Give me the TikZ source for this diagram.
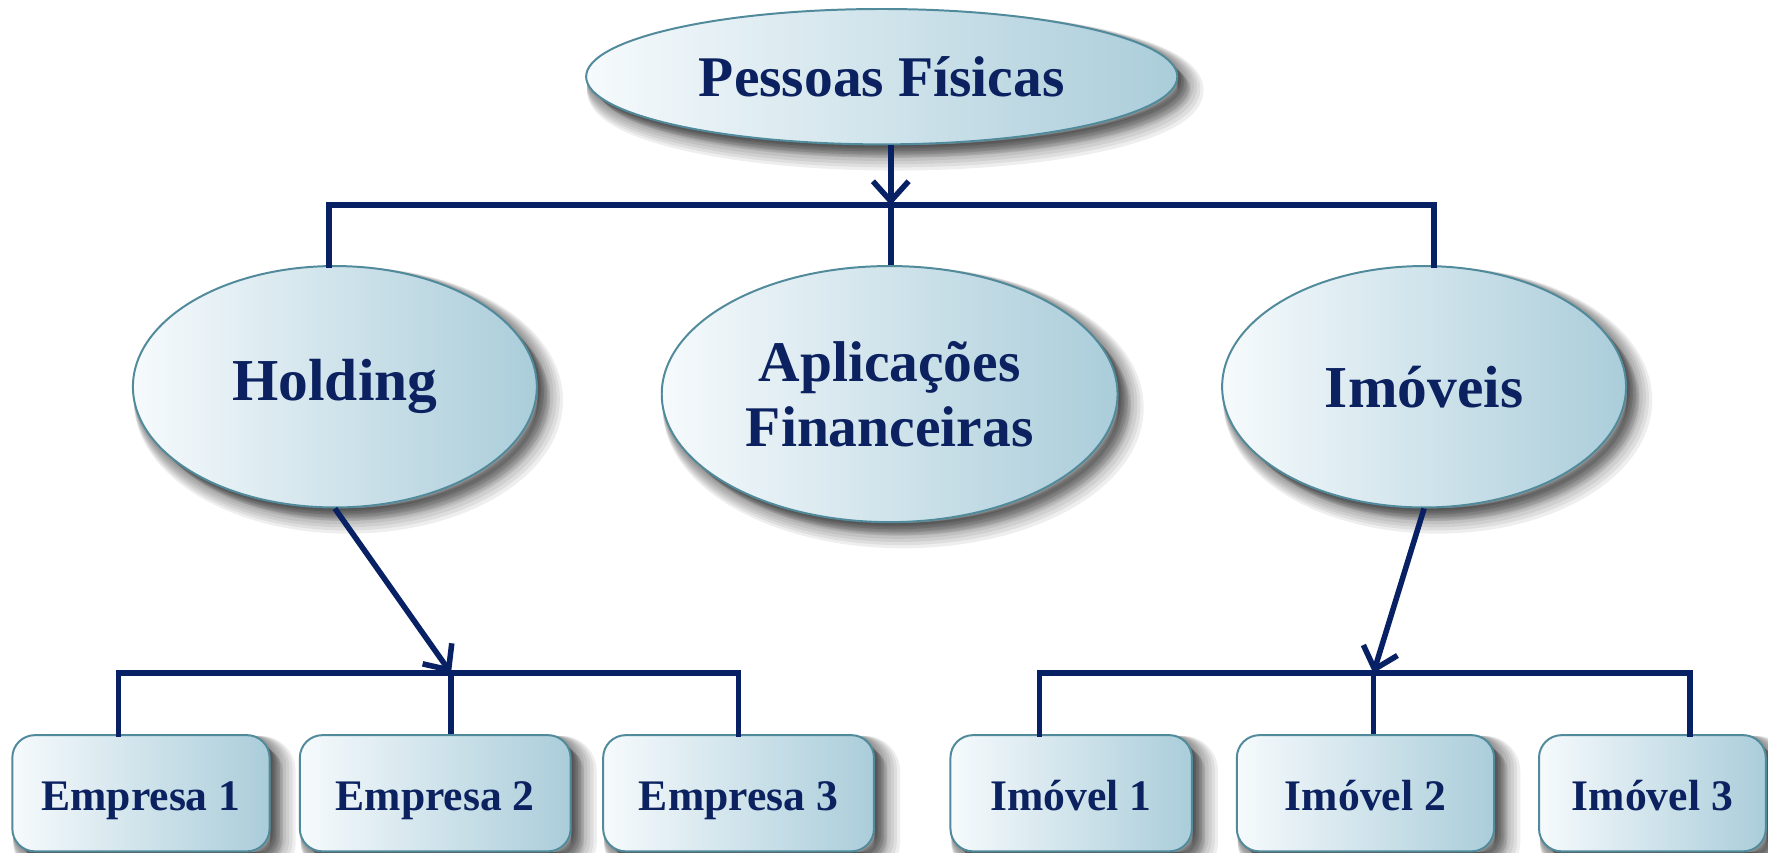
\documentclass[tikz,border=0pt]{standalone}
\usepackage{fontspec}
\setmainfont{Liberation Serif}
\usetikzlibrary{shapes.geometric,arrows.meta}
\definecolor{navy}{RGB}{8,32,100}
\definecolor{txt}{RGB}{12,34,96}
\definecolor{edge}{RGB}{80,138,155}
\definecolor{lightc}{RGB}{246,250,252}
\definecolor{darkc}{RGB}{170,205,218}
\tikzset{
  sh/.style n args={2}{preaction={fill=black, draw=black, line width=#2, opacity=0.065,
      transform canvas={xshift=#1,yshift=-#1}}},
  softshadow/.style={sh={3.4pt}{6.4pt}, sh={3pt}{5.6pt}, sh={2.6pt}{4.8pt}, sh={2.2pt}{4pt},
    sh={1.8pt}{3.2pt}, sh={1.4pt}{2.4pt}, sh={1pt}{1.6pt}, sh={0.6pt}{0.8pt}},
  bubble/.style={ellipse, softshadow, draw=edge, line width=0.5pt, left color=lightc, right color=darkc,
    inner sep=0pt, text=txt, align=center},
  leaf/.style={rectangle, rounded corners=0.2cm, softshadow, draw=edge, line width=0.5pt, left color=lightc, right color=darkc,
    inner sep=0pt, minimum height=1.03cm, text=txt, text height=10.8pt, text depth=2pt,
    font=\bfseries\fontsize{11}{12}\selectfont},
  wire/.style={draw=navy, line width=1.4pt},
  arr/.style={wire, -{Straight Barb[length=5pt,width=9pt,line width=1.4pt]}}
}
\begin{document}
\begin{tikzpicture}[x=0.01cm,y=-0.01cm]
\useasboundingbox (0,0) rectangle (1568,756.5);
\node[bubble, minimum width=5.24cm, minimum height=1.2cm, font=\bfseries\fontsize{14.5}{17}\selectfont] (pf) at (782,68) {Pessoas Físicas};
\node[bubble, minimum width=3.58cm, minimum height=2.14cm, font=\bfseries\fontsize{15}{16.5}\selectfont] (hold) at (297,343) {Holding};
\node[bubble, minimum width=4.04cm, minimum height=2.27cm, font=\bfseries\fontsize{14.5}{16.5}\selectfont] (apl) at (789,349.5) {Aplicações\\Financeiras};
\node[bubble, minimum width=3.58cm, minimum height=2.14cm, font=\bfseries\fontsize{15}{16.5}\selectfont] (imo) at (1263,343) {Imóveis};

\node[leaf, minimum width=2.28cm] (e1) at (125,703.5) {Empresa 1};
\node[leaf, minimum width=2.40cm] (e2) at (386,703.5) {Empresa 2};
\node[leaf, minimum width=2.40cm] (e3) at (655,703.5) {Empresa 3};
\node[leaf, minimum width=2.14cm] (i1) at (950,703.5) {Imóvel 1};
\node[leaf, minimum width=2.28cm] (i2) at (1211,703.5) {Imóvel 2};
\node[leaf, minimum width=2.01cm] (i3) at (1465.5,703.5) {Imóvel 3};

% top bus
\coordinate (tb) at (790,182);
\coordinate (tl) at (292,182);
\coordinate (tr) at (1272,182);
\draw[arr] (pf.south -| tb) -- (tb);
\draw[wire, line cap=rect] (tl |- hold.north) -- (tl) -- (tr) -- (tr |- imo.north);
\draw[wire] (tb) -- (apl.north -| tb);

% left bus
\coordinate (lb) at (400,597);
\coordinate (ll) at (105,597);
\coordinate (lr) at (655,597);
\draw[arr] (hold.south) -- (lb);
\draw[wire, line cap=rect] (ll |- e1.north) -- (ll) -- (lr) -- (lr |- e3.north);
\draw[wire] (lb) -- (lb |- e2.north);

% right bus
\coordinate (rb) at (1218,597);
\coordinate (rl) at (922,597);
\coordinate (rr) at (1499,597);
\draw[arr] (imo.south) -- (rb);
\draw[wire, line cap=rect] (rl |- i1.north) -- (rl) -- (rr) -- (rr |- i3.north);
\draw[wire] (rb) -- (rb |- i2.north);
\end{tikzpicture}
\end{document}
